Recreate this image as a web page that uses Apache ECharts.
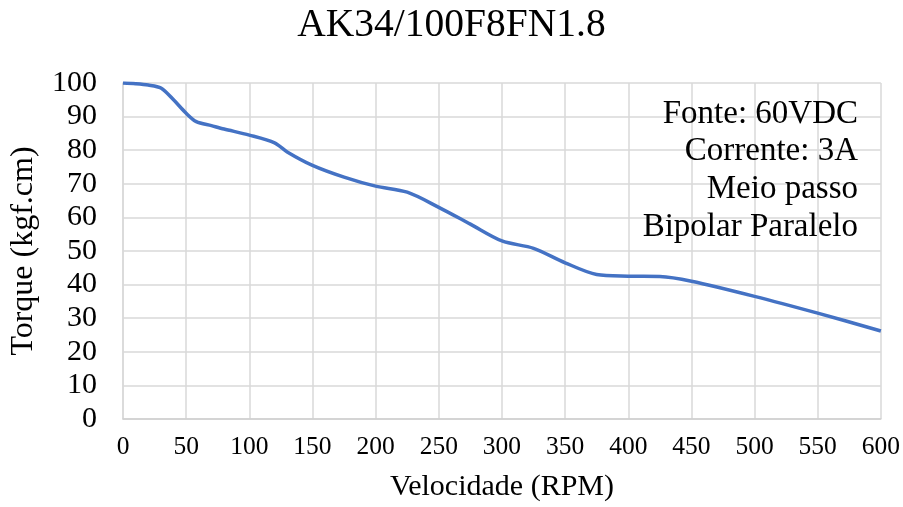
<!DOCTYPE html>
<html><head><meta charset="utf-8">
<script src="https://cdn.jsdelivr.net/npm/echarts@6/dist/echarts.min.js"></script>
<style>html,body{margin:0;padding:0;background:#fff}#c{width:903px;height:507px}</style>
</head><body><div id="c"></div>
<script>
const titleText = 'AK34/100F8FN1.8';
const xName = 'Velocidade (RPM)';
const yName = 'Torque (kgf.cm)';
const notes = ['Fonte: 60VDC', 'Corrente: 3A', 'Meio passo', 'Bipolar Paralelo'];
const speed = [0, 10, 20, 30, 40, 50, 58, 70, 80, 100, 120, 130, 150, 175, 200, 225, 250, 275, 300, 325, 350, 375, 400, 425, 450, 500, 550, 600];
const torque = [100, 99.8, 99.4, 98.5, 95, 91, 88.5, 87.3, 86.3, 84.5, 82.2, 79.5, 75.5, 72, 69.3, 67.5, 63, 58, 53, 50.8, 46.5, 43, 42.5, 42.4, 41, 36.5, 31.5, 26.2];

const font = 'Liberation Serif, Times New Roman, serif';
const chart = echarts.init(document.getElementById('c'));
chart.setOption({
  animation: false,
  title: { text: titleText, left: 'center', top: 1, textStyle: { fontFamily: font, fontSize: 39.5, fontWeight: 'normal', color: '#000' } },
  grid: { left: 123, right: 19, top: 83, bottom: 87 },
  xAxis: {
    type: 'value', min: 0, max: 600, interval: 50,
    name: xName, nameLocation: 'middle', nameGap: 53,
    nameTextStyle: { fontFamily: font, fontSize: 30, color: '#000' },
    axisLine: { lineStyle: { color: '#d0d0d0', width: 1.5 } },
    axisTick: { show: false },
    axisLabel: { fontFamily: font, fontSize: 25.5, color: '#000', margin: 15 },
    splitLine: { show: true, lineStyle: { color: '#d9d9d9', width: 1.5 } }
  },
  yAxis: {
    type: 'value', min: 0, max: 100, interval: 10,
    name: yName, nameLocation: 'middle', nameGap: 83, nameRotate: 90,
    nameTextStyle: { fontFamily: font, fontSize: 32, color: '#000' },
    axisLine: { show: true, lineStyle: { color: '#d9d9d9', width: 1.5 } },
    axisTick: { show: false },
    axisLabel: { fontFamily: font, fontSize: 30, color: '#000', margin: 26 },
    splitLine: { show: true, lineStyle: { color: '#d9d9d9', width: 1.5 } }
  },
  series: [{
    type: 'line', data: speed.map((s, i) => [s, torque[i]]),
    smooth: 0.3, showSymbol: false,
    lineStyle: { color: '#4472C4', width: 3.5 }
  }],
  graphic: notes.map((t, i) => ({
    type: 'text', x: 858, y: 114 + i * 37.7, z: 10,
    style: { text: t, font: '33px ' + font, fill: '#000', align: 'right', verticalAlign: 'middle' }
  }))
});
</script></body></html>
